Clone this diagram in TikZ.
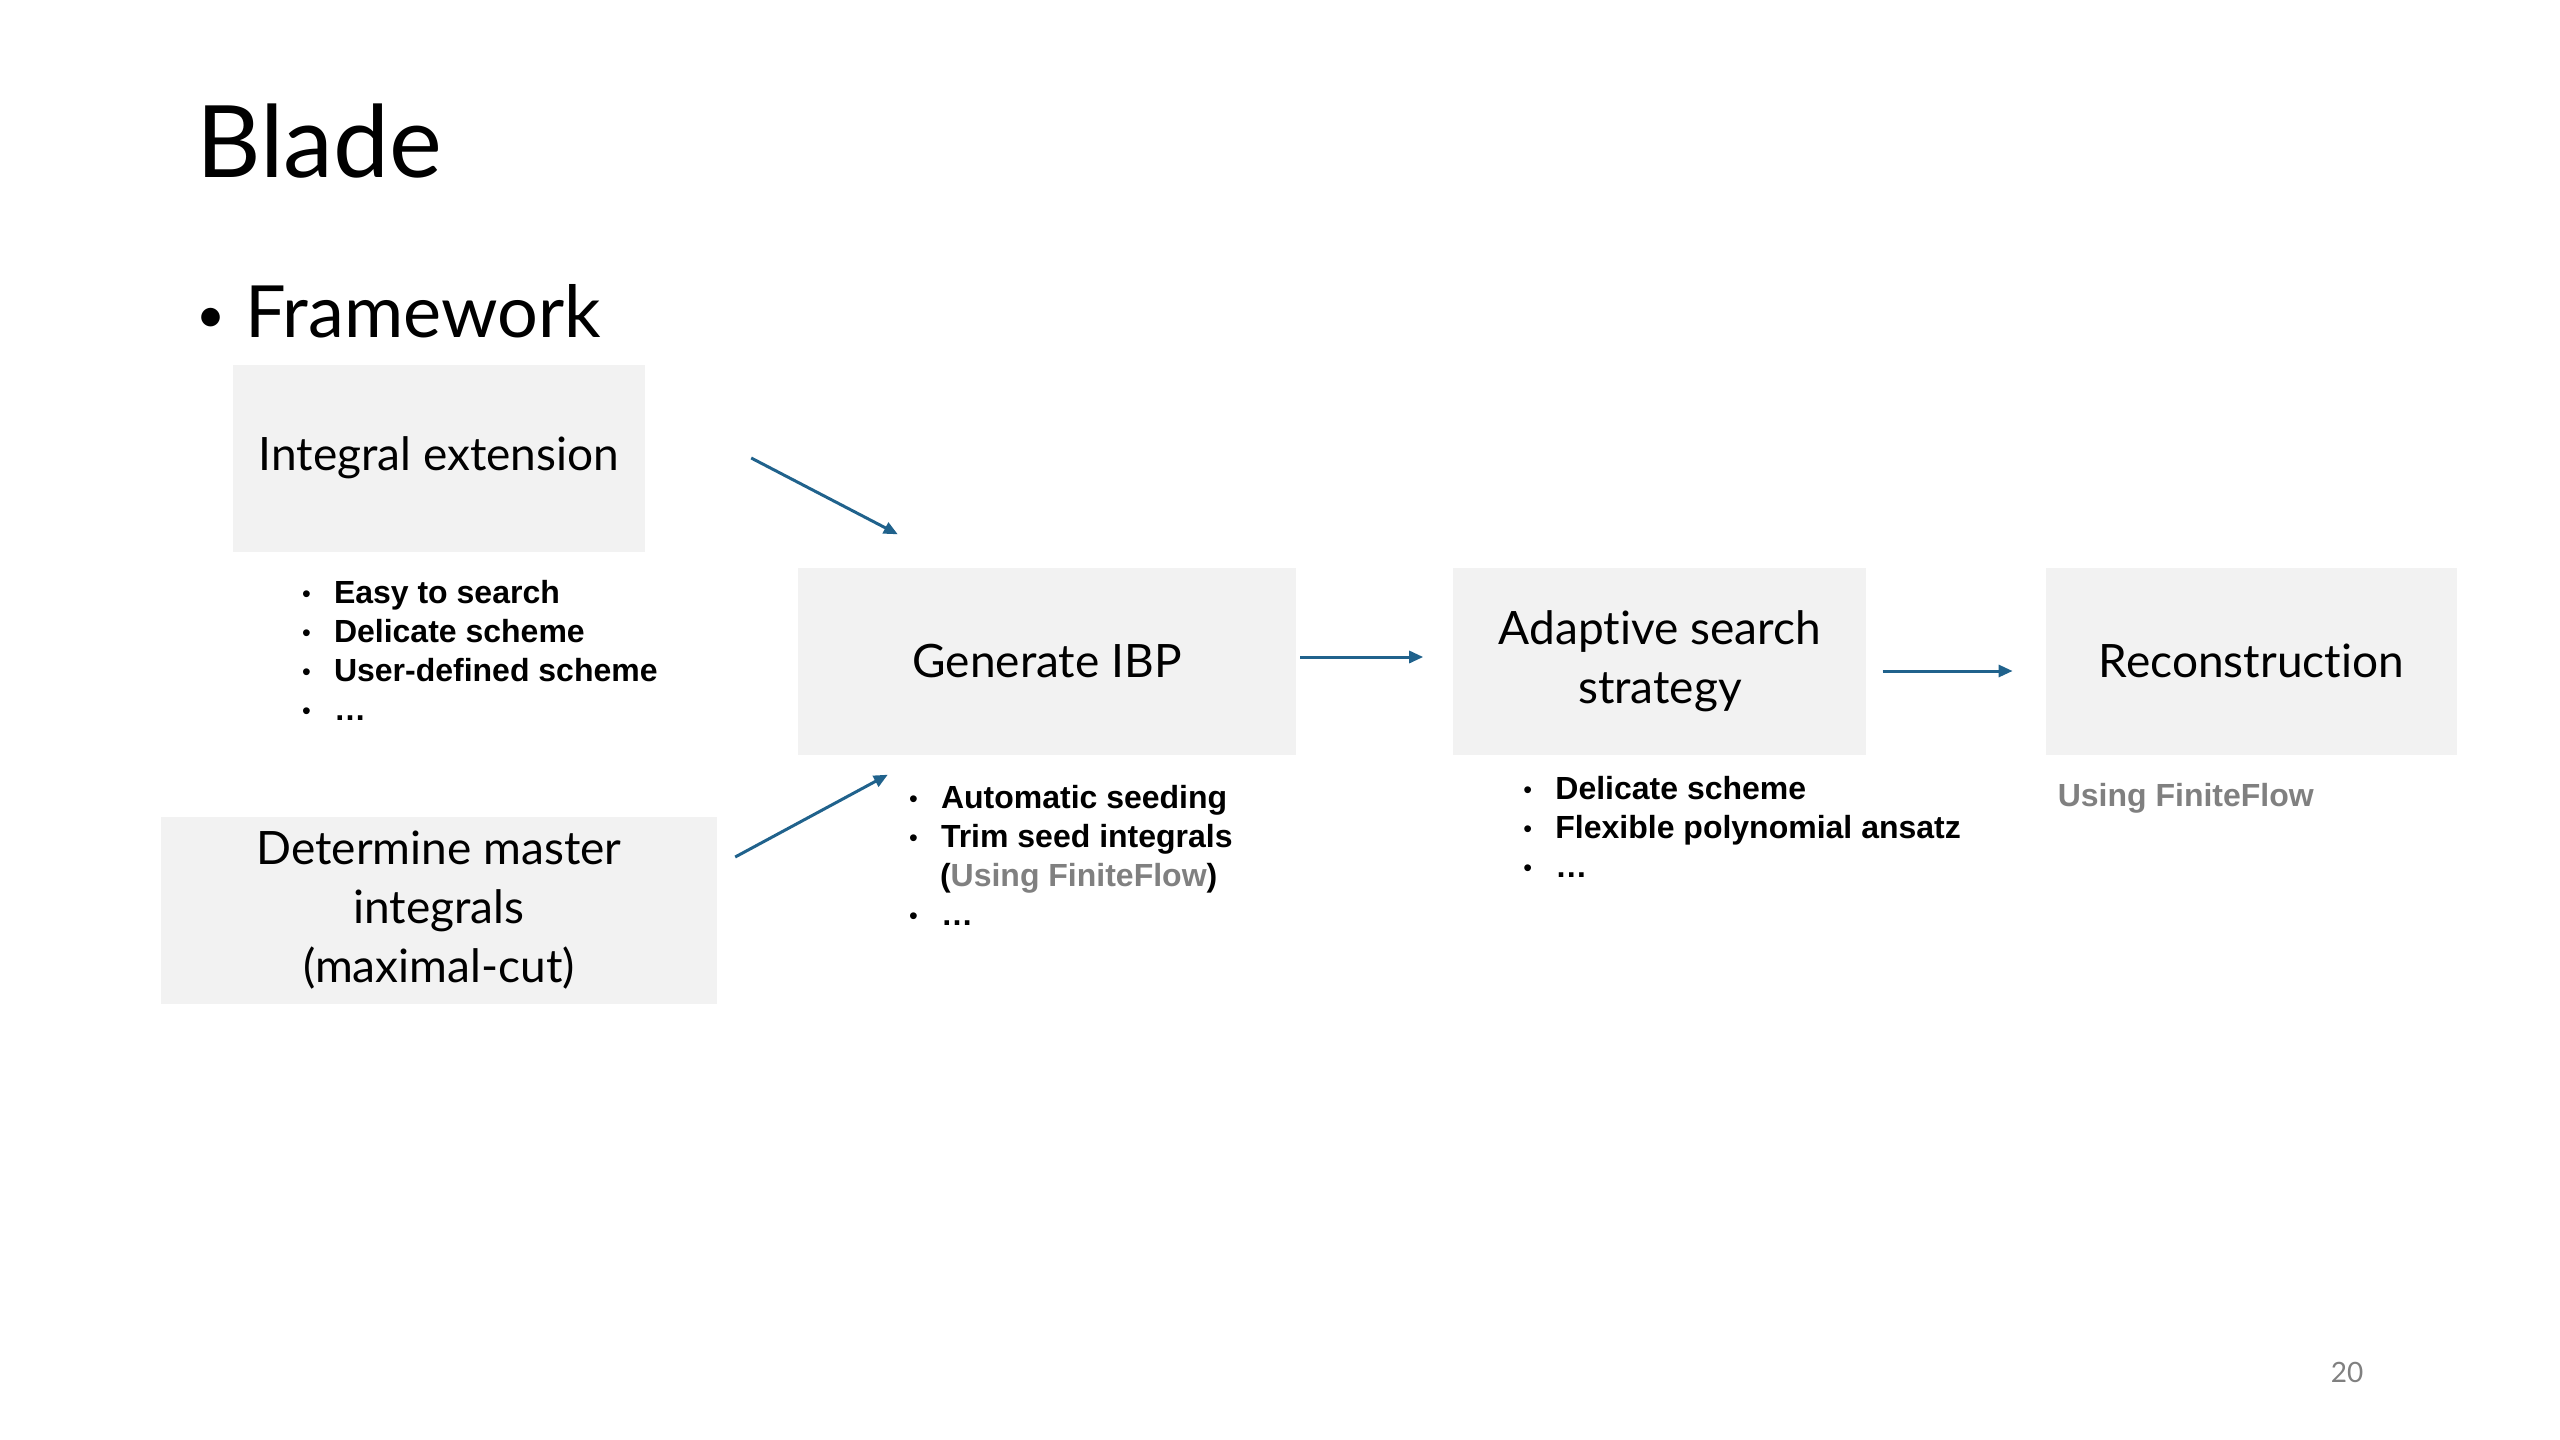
\documentclass[tikz,border=0pt]{standalone}
\usepackage{fontspec}
\setmainfont{Lato}[Ligatures=NoCommon]
\newfontfamily\listfont{Liberation Sans}
\usepackage{xcolor}
\usetikzlibrary{arrows.meta, positioning}
\definecolor{boxgray}{RGB}{242,242,242}
\definecolor{arrowblue}{RGB}{32,98,140}
\definecolor{notegray}{RGB}{128,128,128}
\tikzset{
    block/.style={rectangle, fill=boxgray, minimum height=187pt, align=center, inner sep=0pt, font=\fontsize{46}{59}\selectfont},
    list/.style={anchor=north west, align=left, inner sep=0pt, font=\listfont\bfseries\fontsize{32}{39}\selectfont},
    arrow/.style={-{Triangle[length=14pt, width=12pt]}, line width=3pt, draw=arrowblue, fill=arrowblue},
}
\newcommand{\bitem}[1]{\makebox[32pt][l]{\raisebox{1pt}{\mdseries\fontsize{25}{25}\selectfont\textbullet}}#1}

\begin{document}
\begin{tikzpicture}[x=1pt, y=-1pt]
        \useasboundingbox (0,0) rectangle (2560,1440);

        % Title
        \node[anchor=base west, inner sep=0pt, font=\fontsize{100}{110}\selectfont] (title) at (196,177) {Blade};
        \node[anchor=base west, inner sep=0pt, font=\fontsize{72}{80}\selectfont] (frame) at (196,337) {\makebox[49pt][l]{\raisebox{5pt}{\fontsize{50}{50}\selectfont\textbullet}}Framework};

        % Steps
        \node[block, minimum width=412pt] (integral) at (439,458) {Integral extension};
        \node[block, minimum width=556pt] (master) at (439,910) {Determine master\\integrals\\(maximal-cut)};
        \node[block, minimum width=498pt] (ibp) at (1047,661) {Generate IBP};
        \node[block, minimum width=413pt, right=157pt of ibp] (adaptive) {Adaptive search\\strategy};
        \node[block, minimum width=411pt, right=179pt of adaptive] (recon) {Reconstruction};

        % Notes
        \node[list] (intlist) at ([xshift=69pt, yshift=-28pt]integral.south west) {\bitem{Easy to search}\\\bitem{Delicate scheme}\\\bitem{User-defined scheme}\\\bitem{\ldots}};
        \node[list] (ibplist) at ([xshift=111pt, yshift=-30pt]ibp.south west) {\bitem{Automatic seeding}\\\bitem{Trim seed integrals}\\\hspace*{31pt}(\textcolor{notegray}{Using FiniteFlow})\\\bitem{\ldots}};
        \node[list] (adalist) at ([xshift=70pt, yshift=-21pt]adaptive.south west) {\bitem{Delicate scheme}\\\bitem{Flexible polynomial ansatz}\\\bitem{\ldots}};
        \node[list, text=notegray] (recnote) at ([xshift=12pt, yshift=-28pt]recon.south west) {Using FiniteFlow};

        % Page number
        \node[text=notegray, font=\fontsize{28}{30}\selectfont] (page) at (2347,1372) {20};

        % Arrows
        \coordinate (a1s) at ([xshift=106pt]integral.east);
        \coordinate (a1e) at ([xshift=100pt, yshift=33pt]ibp.north west);
        \coordinate (a2s) at ([xshift=18pt, yshift=53pt]master.east);
        \coordinate (a2e) at ([xshift=90pt, yshift=-20pt]ibp.south west);
        \draw[arrow] (a1s) -- (a1e);
        \draw[arrow] (a2s) -- (a2e);
        \draw[arrow, shorten <=4pt, shorten >=30pt] ([yshift=4pt]ibp.east) -- ([yshift=4pt]adaptive.west);
        \draw[arrow, shorten <=16pt, shorten >=33pt] ([yshift=-10pt]adaptive.east) -- ([yshift=-10pt]recon.west);
    \end{tikzpicture}
\end{document}
